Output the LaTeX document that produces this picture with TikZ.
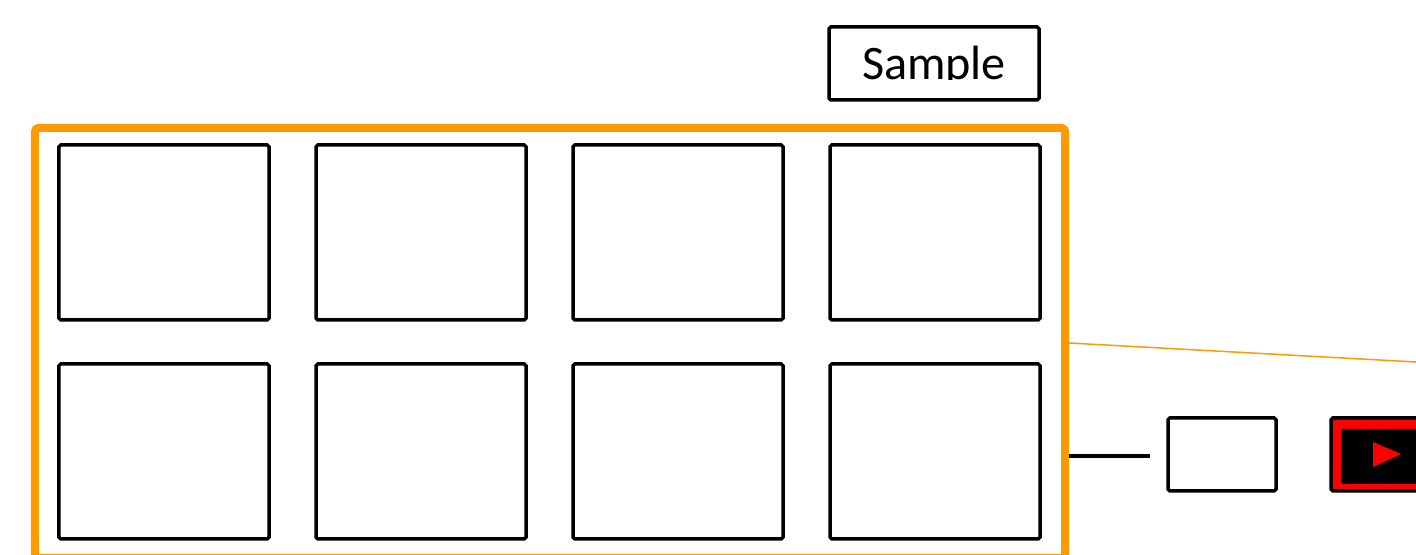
\documentclass[tikz,border=0pt]{standalone}
\usepackage{fontspec}
\setmainfont{Carlito}
\usepackage{tikz}
\definecolor{frameorange}{HTML}{FF9900}
\tikzset{
 panel/.style={draw=black, fill=white, line width=0.035cm, rounded corners=0.5pt, inner sep=0pt, minimum width=2.1cm, minimum height=1.75cm},
 smallpanel/.style={panel, minimum height=0.73cm},
}

\begin{document}
\begin{tikzpicture}
 \useasboundingbox (0,0) rectangle (14.16,5.55);
 \clip (0,0) rectangle (14.16,5.55);
 \node[draw=frameorange, line width=0.08cm, rounded corners=1pt, inner sep=0pt, minimum width=10.3cm, minimum height=4.3cm] (frame) at (5.50,2.12) {};
 \node[panel] (p11) at (1.64,3.225) {};
 \node[panel] (p12) at (4.21,3.225) {};
 \node[panel] (p13) at (6.78,3.225) {};
 \node[panel] (p14) at (9.35,3.225) {};
 \node[panel] (p21) at (1.64,1.035) {};
 \node[panel] (p22) at (4.21,1.035) {};
 \node[panel] (p23) at (6.78,1.035) {};
 \node[panel] (p24) at (9.35,1.035) {};
 \node[smallpanel] (samplebox) at (9.34,4.915) {};
 \begin{scope}
  \clip (8.4,4.75) rectangle (10.3,5.4);
  \node[anchor=base, inner sep=0pt, font=\fontsize{13.7pt}{16pt}\selectfont] (sampletext) at (9.34,4.75) {Sample};
 \end{scope}
 \node[smallpanel, minimum width=1.08cm] (thumb) at (12.22,1.005) {};
 \node[smallpanel, fill=red, minimum width=1.69cm] (video) at (14.155,1.005) {};
 \node[fill=black, rounded corners=0.5pt, inner sep=0pt, minimum width=1.59cm, minimum height=0.55cm] (screen) at (14.205,0.985) {};
 \fill[red] (13.73,1.13) -- (14.01,1.01) -- (13.73,0.88) -- cycle;
 \coordinate (linkend) at (14.16,1.93);
 \coordinate (stubend) at (11.50,0.99);
 \draw[frameorange, line width=0.015cm] (frame.east) -- (linkend);
 \draw[line width=0.035cm] (frame.east |- stubend) -- (stubend);
\end{tikzpicture}
\end{document}
